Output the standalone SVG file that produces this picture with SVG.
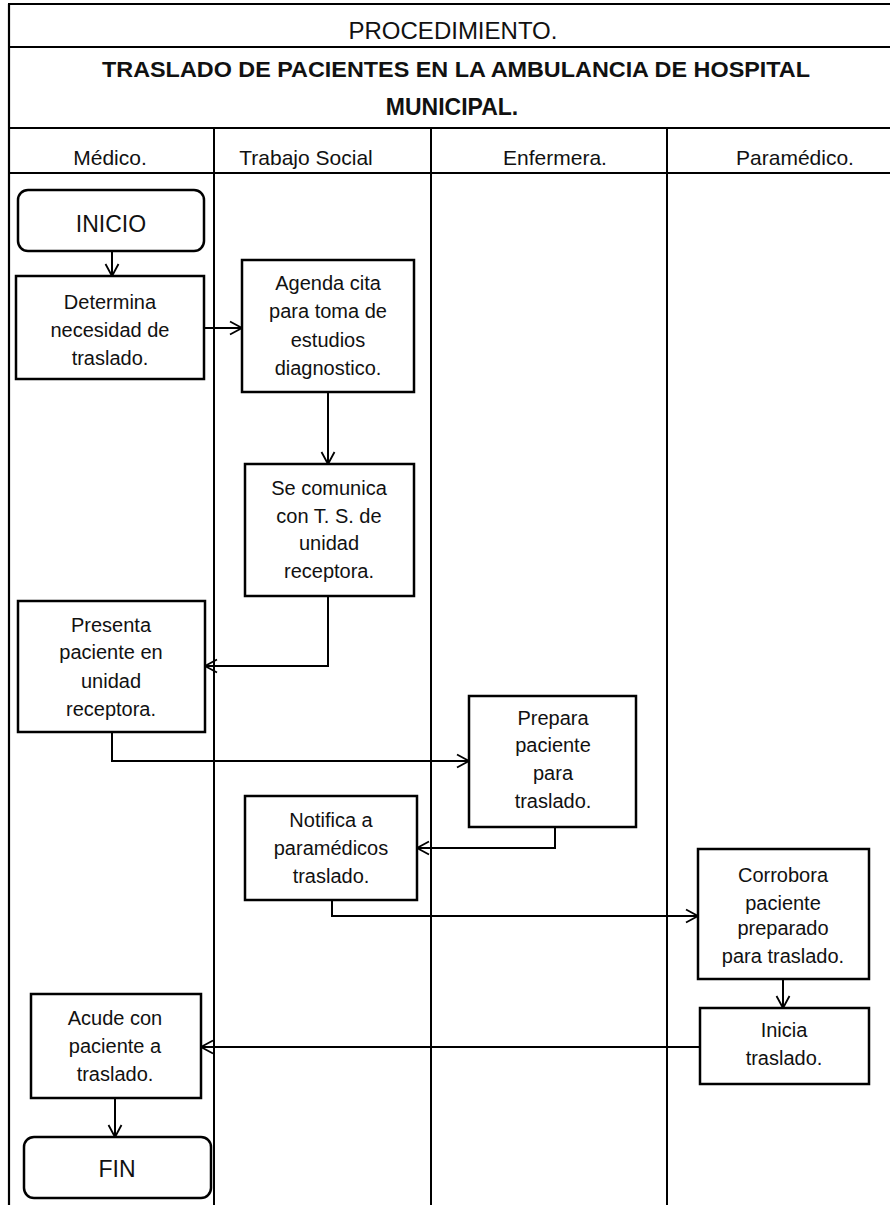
<svg xmlns="http://www.w3.org/2000/svg" width="890" height="1205" viewBox="0 0 890 1205">
  <style>
    .frame { stroke: #000; stroke-width: 2.2; fill: none; }
    .lane { stroke: #000; stroke-width: 2; fill: none; }
    .box { fill: #fff; stroke: #000; stroke-width: 2.5; }
    .term { fill: #fff; stroke: #000; stroke-width: 2.5; }
    .txt { font-family: "Liberation Sans", Arial, sans-serif; font-size: 20px; fill: #111; text-anchor: middle; }
    .hdr { font-family: "Liberation Sans", Arial, sans-serif; font-size: 21px; fill: #111; text-anchor: middle; }
    .ttl { font-family: "Liberation Sans", Arial, sans-serif; font-size: 22px; font-weight: bold; fill: #111; text-anchor: middle; }
    .big { font-family: "Liberation Sans", Arial, sans-serif; font-size: 23px; fill: #111; text-anchor: middle; }
    .flow { stroke: #000; stroke-width: 2; fill: none; marker-end: url(#arrow); }
  </style>
  <defs>
    <marker id="arrow" markerUnits="userSpaceOnUse" markerWidth="16" markerHeight="16" refX="13" refY="8" orient="auto">
      <path d="M1,1.5 L13,8 L1,14.5" fill="none" stroke="#000" stroke-width="1.8"/>
    </marker>
  </defs>
  <rect width="890" height="1205" fill="#fff"/>

  <!-- table frame and swimlanes -->
  <g id="table">
    <line class="frame" x1="8" y1="4" x2="890" y2="4"/>
    <line class="frame" x1="9" y1="4" x2="9" y2="1205"/>
    <line class="frame" x1="8" y1="47" x2="890" y2="47"/>
    <line class="frame" x1="8" y1="128" x2="890" y2="128"/>
    <line class="frame" x1="8" y1="173" x2="890" y2="173"/>
    <line class="lane" x1="214" y1="128" x2="214" y2="1205"/>
    <line class="lane" x1="431" y1="128" x2="431" y2="1205"/>
    <line class="lane" x1="667" y1="128" x2="667" y2="1205"/>
    <text class="hdr" x="453" y="39" style="font-size:24px">PROCEDIMIENTO.</text>
    <text class="ttl" x="456" y="77" textLength="708" lengthAdjust="spacingAndGlyphs">TRASLADO DE PACIENTES EN LA AMBULANCIA DE HOSPITAL</text>
    <text class="ttl" x="452" y="115" style="font-size:23px">MUNICIPAL.</text>
    <text class="hdr" x="110" y="165">Médico.</text>
    <text class="hdr" x="306" y="165">Trabajo Social</text>
    <text class="hdr" x="555" y="165">Enfermera.</text>
    <text class="hdr" x="795" y="165">Paramédico.</text>
  </g>

  <!-- connectors -->
  <g id="connectors">
    <path class="flow" d="M112,251 L112,276"/>
    <path class="flow" d="M204,328 L242,328"/>
    <path class="flow" d="M328,392 L328,464"/>
    <path class="flow" d="M328,596 L328,666 L205,666"/>
    <path class="flow" d="M112,732 L112,761 L469,761"/>
    <path class="flow" d="M555,827 L555,848 L417,848"/>
    <path class="flow" d="M332,900 L332,916 L698,916"/>
    <path class="flow" d="M783,979 L783,1008"/>
    <path class="flow" d="M700,1047 L201,1047"/>
    <path class="flow" d="M115,1098 L115,1137"/>
  </g>

  <g id="inicio">
    <rect class="term" x="18" y="190" width="186" height="61" rx="10"/>
    <text class="big" x="111" y="232">INICIO</text>
  </g>

  <g id="determina">
    <rect class="box" x="16" y="276" width="188" height="103"/>
    <text class="txt" x="110" y="309">Determina</text>
    <text class="txt" x="110" y="337">necesidad de</text>
    <text class="txt" x="110" y="365">traslado.</text>
  </g>

  <g id="agenda">
    <rect class="box" x="242" y="260" width="172" height="132"/>
    <text class="txt" x="328" y="290">Agenda cita</text>
    <text class="txt" x="328" y="318">para toma de</text>
    <text class="txt" x="328" y="347">estudios</text>
    <text class="txt" x="328" y="375">diagnostico.</text>
  </g>

  <g id="comunica">
    <rect class="box" x="245" y="464" width="169" height="132"/>
    <text class="txt" x="329" y="495">Se comunica</text>
    <text class="txt" x="329" y="523">con T. S. de</text>
    <text class="txt" x="329" y="550">unidad</text>
    <text class="txt" x="329" y="578">receptora.</text>
  </g>

  <g id="presenta">
    <rect class="box" x="18" y="601" width="187" height="131"/>
    <text class="txt" x="111" y="632">Presenta</text>
    <text class="txt" x="111" y="659">paciente en</text>
    <text class="txt" x="111" y="688">unidad</text>
    <text class="txt" x="111" y="716">receptora.</text>
  </g>

  <g id="prepara">
    <rect class="box" x="469" y="696" width="167" height="131"/>
    <text class="txt" x="553" y="725">Prepara</text>
    <text class="txt" x="553" y="752">paciente</text>
    <text class="txt" x="553" y="780">para</text>
    <text class="txt" x="553" y="808">traslado.</text>
  </g>

  <g id="notifica">
    <rect class="box" x="245" y="796" width="172" height="104"/>
    <text class="txt" x="331" y="827">Notifica a</text>
    <text class="txt" x="331" y="855">paramédicos</text>
    <text class="txt" x="331" y="883">traslado.</text>
  </g>

  <g id="corrobora">
    <rect class="box" x="698" y="849" width="171" height="130"/>
    <text class="txt" x="783" y="882">Corrobora</text>
    <text class="txt" x="783" y="910">paciente</text>
    <text class="txt" x="783" y="935">preparado</text>
    <text class="txt" x="783" y="963">para traslado.</text>
  </g>

  <g id="inicia">
    <rect class="box" x="700" y="1008" width="169" height="76"/>
    <text class="txt" x="784" y="1037">Inicia</text>
    <text class="txt" x="784" y="1065">traslado.</text>
  </g>

  <g id="acude">
    <rect class="box" x="31" y="994" width="170" height="104"/>
    <text class="txt" x="115" y="1025">Acude con</text>
    <text class="txt" x="115" y="1053">paciente a</text>
    <text class="txt" x="115" y="1081">traslado.</text>
  </g>

  <g id="fin">
    <rect class="term" x="24" y="1137" width="187" height="61" rx="10"/>
    <text class="big" x="117" y="1177">FIN</text>
  </g>
</svg>
